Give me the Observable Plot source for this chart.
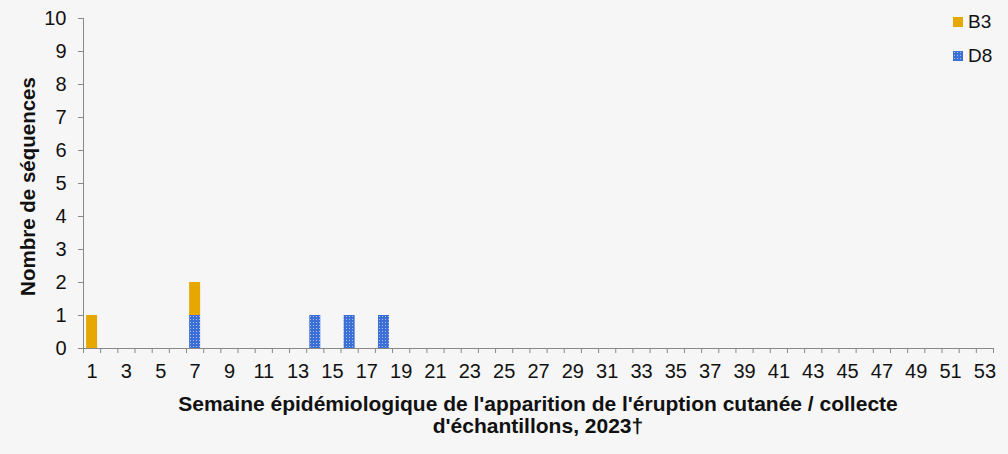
<!DOCTYPE html>
<html>
<head>
<meta charset="utf-8">
<script src="https://cdn.jsdelivr.net/npm/d3@7"></script>
<script src="https://cdn.jsdelivr.net/npm/@observablehq/plot@0.6"></script>
<style>
  html, body { margin: 0; padding: 0; background: #f6f6f6; }
  #wrap { position: relative; width: 1008px; height: 454px; font-family: "Liberation Sans", Arial, sans-serif; }
  #xtitle { position: absolute; left: 60px; width: 956px; top: 393px; text-align: center; font-weight: bold; font-size: 21px; line-height: 22px; color: #111; white-space: nowrap; }
  .leg { position: absolute; left: 953px; font-size: 19px; line-height: 22px; color: #111; display: flex; align-items: center; }
  .sw { width: 10px; height: 10px; margin-right: 5px; }
</style>
</head>
<body>
<div id="wrap">
  <div id="chart"></div>
  <div id="xtitle">Semaine épidémiologique de l'apparition de l'éruption cutanée / collecte<br>d'échantillons, 2023†</div>
  <div class="leg" style="top:11px"><div class="sw" style="background:#E6A700"></div>B3</div>
  <div class="leg" style="top:45px"><div class="sw" style="background:#3b6fd6;background-image:radial-gradient(#a9c1f2 30%, transparent 40%);background-size:3px 3px"></div>D8</div>
</div>
<script>
const weeks = d3.range(1, 54);
const seriesNames = ["D8", "B3"];
const d8Weeks = [7, 14, 16, 18];
const d8Values = [1, 1, 1, 1];
const b3Weeks = [1, 7];
const b3Values = [1, 1];
const yTicks = [0, 1, 2, 3, 4, 5, 6, 7, 8, 9, 10];
const xLabelWeeks = weeks.filter(w => w % 2 === 1);
const yTitle = "Nombre de séquences";

// stack D8 below B3
const base = new Map();
const rows = [];
[["D8", d8Weeks, d8Values], ["B3", b3Weeks, b3Values]].forEach(([s, ws, vs]) => {
  ws.forEach((w, i) => {
    const y1 = base.get(w) || 0;
    const y2 = y1 + vs[i];
    base.set(w, y2);
    rows.push({ series: s, week: w, y1, y2 });
  });
});
const half = 0.32;
const boundaries = d3.range(0.5, 54, 1);

const chart = Plot.plot({
  width: 1008,
  height: 392,
  marginLeft: 83,
  marginRight: 15,
  marginTop: 18,
  marginBottom: 44,
  style: { background: "transparent", fontFamily: "'Liberation Sans', Arial, sans-serif", fontSize: "20px", color: "#111" },
  x: { type: "linear", domain: [0.5, 53.5] },
  y: { domain: [0, 10] },
  marks: [
    Plot.rectY(rows.filter(d => d.series === "B3"), { x1: d => d.week - half, x2: d => d.week + half, y1: "y1", y2: "y2", fill: "#E6A700" }),
    Plot.rectY(rows.filter(d => d.series === "D8"), { x1: d => d.week - half, x2: d => d.week + half, y1: "y1", y2: "y2", fill: "url(#dots)" }),
    Plot.axisY({ ticks: yTicks, tickSize: 5, tickPadding: 12, fontSize: 20, stroke: "#888", label: null, tickFormat: d => d }),
    Plot.axisX({ ticks: boundaries, tickSize: 5, tickFormat: () => "", stroke: "#888", label: null }),
    Plot.axisX({ ticks: xLabelWeeks, tickSize: 0, tickPadding: 15, fontSize: 20, label: null, tickFormat: d => d }),
    Plot.frame({ anchor: "left", stroke: "#888" }),
    Plot.frame({ anchor: "bottom", stroke: "#888" }),
    Plot.text([yTitle], { frameAnchor: "left", dx: -55, dy: 3, rotate: -90, textAnchor: "middle", lineAnchor: "middle", fontSize: 20.5, fontWeight: "bold", fill: "#111", text: d => d })
  ]
});

const ns = "http://www.w3.org/2000/svg";
const defs = document.createElementNS(ns, "defs");
defs.innerHTML = '<pattern id="dots" width="3" height="3" patternUnits="userSpaceOnUse"><rect width="3" height="3" fill="#3b6fd6"/><rect x="1" y="1" width="1" height="1" fill="#a9c1f2"/></pattern>';
chart.insertBefore(defs, chart.firstChild);
document.getElementById("chart").appendChild(chart);
</script>
</body>
</html>
